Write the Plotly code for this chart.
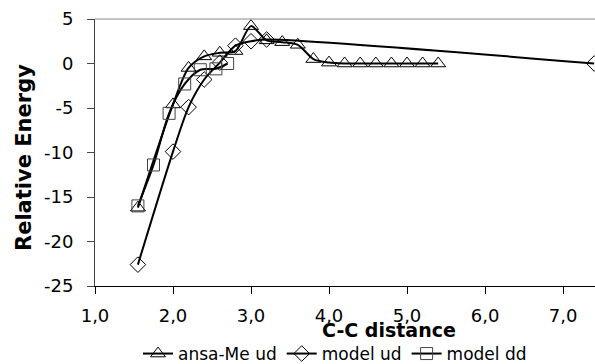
import plotly.graph_objects as go

# ansa-Me ud (triangles)
tri_x = [1.55, 2.0, 2.2, 2.4, 2.6, 2.8, 3.0, 3.2, 3.4, 3.6, 3.8, 4.0, 4.2, 4.4, 4.6, 4.8, 5.0, 5.2, 5.4]
tri_y = [-16.2, -4.6, -0.5, 0.8, 1.2, 1.4, 4.2, 2.6, 2.4, 2.1, 0.5, 0.1, 0.0, 0.0, 0.0, 0.0, 0.0, 0.0, 0.0]

# model ud (diamonds)
dia_x = [1.55, 2.0, 2.2, 2.4, 2.6, 2.8, 3.0, 3.2, 7.4]
dia_y = [-22.6, -9.9, -4.9, -1.8, 0.1, 2.0, 2.5, 2.7, 0.0]

# model dd (squares)
sq_x = [1.55, 1.75, 1.95, 2.15, 2.35, 2.55, 2.7]
sq_y = [-16.0, -11.4, -5.6, -2.3, -0.7, -0.6, 0.0]

x_ticks = [1.0, 2.0, 3.0, 4.0, 5.0, 6.0, 7.0]
y_ticks = [-25, -20, -15, -10, -5, 0, 5]

FONT = "DejaVu Sans"

fig = go.Figure()
fig.add_trace(go.Scatter(
    x=tri_x, y=tri_y, name="ansa-Me ud", mode="lines+markers",
    line=dict(color="black", width=2, shape="spline", smoothing=0.8),
    marker=dict(symbol="triangle-up-open", size=13, color="black", line=dict(width=1, color="black")),
    cliponaxis=False,
))
fig.add_trace(go.Scatter(
    x=dia_x, y=dia_y, name="model ud", mode="lines+markers",
    line=dict(color="black", width=2, shape="spline", smoothing=0.8),
    marker=dict(symbol="diamond-open", size=12, color="black", line=dict(width=1, color="black")),
    cliponaxis=False,
))
fig.add_trace(go.Scatter(
    x=sq_x, y=sq_y, name="model dd", mode="lines+markers",
    line=dict(color="black", width=2, shape="spline", smoothing=0.8),
    marker=dict(symbol="square-open", size=12, color="#444444", line=dict(width=1, color="#444444")),
    cliponaxis=False,
))

PLOT_TOP = 19
PLOT_BOTTOM = 286
PH = PLOT_BOTTOM - PLOT_TOP

fig.update_layout(
    width=595, height=364,
    margin=dict(l=95, r=0, t=PLOT_TOP, b=364 - PLOT_BOTTOM, autoexpand=False),
    paper_bgcolor="white", plot_bgcolor="white",
    separators=",.",
    font=dict(family=FONT, size=18, color="black"),
    showlegend=True,
    legend=dict(orientation="h", x=0.48, xanchor="center", y=-(336 - PLOT_BOTTOM) / PH, yanchor="top",
                font=dict(size=17, family=FONT), itemwidth=30, tracegroupgap=0,
                bgcolor="rgba(0,0,0,0)"),
    shapes=[dict(type="line", xref="paper", yref="paper", x0=0, x1=1, y0=1, y1=1,
                 line=dict(color="#888888", width=1))],
    annotations=[
        dict(text="<b>C-C distance</b>", xref="paper", yref="paper", x=(389 - 95) / 500,
             y=-(330 - PLOT_BOTTOM) / PH,
             xanchor="center", yanchor="middle", showarrow=False, font=dict(size=19, family=FONT)),
        dict(text="<b>Relative Energy</b>", xref="paper", yref="paper", x=-(95 - 24) / 500,
             y=(PLOT_BOTTOM - 158) / PH,
             xanchor="center", yanchor="middle", showarrow=False, textangle=-90,
             font=dict(size=21, family=FONT)),
    ],
)
fig.update_xaxes(
    range=[1.0, 7.41], tickvals=x_ticks, tickformat=".1f",
    showgrid=False, zeroline=False, showline=True, linecolor="black", linewidth=1,
    ticks="outside", ticklen=7, tickcolor="black", ticklabelstandoff=6,
    tickfont=dict(size=18, family=FONT),
)
fig.update_yaxes(
    range=[-25, 5], tickvals=y_ticks, ticktext=[str(v) for v in y_ticks],
    showgrid=False, zeroline=False, showline=True, linecolor="#444444", linewidth=1,
    ticks="outside", ticklen=7, tickcolor="#444444", ticklabelstandoff=10,
    tickfont=dict(size=18, family=FONT),
)

fig.write_html("out.html")
